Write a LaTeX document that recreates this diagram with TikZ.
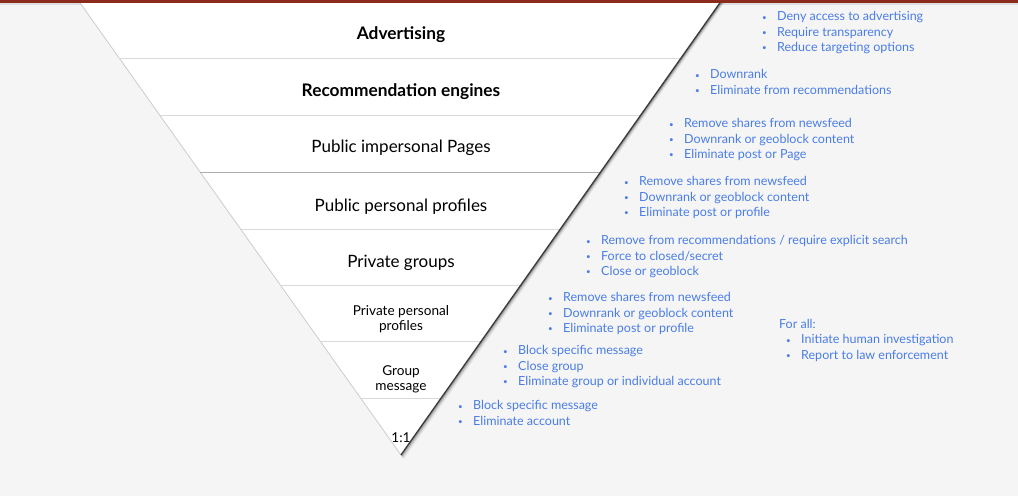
\documentclass[tikz,border=0pt]{standalone}
\usepackage{fontspec}
\setmainfont{Lato}
\usetikzlibrary{calc}
\definecolor{bg}{RGB}{245,245,246}
\definecolor{bluetxt}{RGB}{74,125,230}
\definecolor{topred}{RGB}{140,42,30}
\definecolor{edgedark}{RGB}{60,60,60}
\newcommand{\bitem}[1]{\makebox[15pt][l]{\raisebox{0.6pt}{\fontsize{8}{8}\selectfont\textbullet}}#1}
\begin{document}
\begin{tikzpicture}[x=1pt,y=-1pt,
  lvl/.style={font=\fontsize{17}{19}\selectfont, text=black, inner sep=0pt},
  lvlb/.style={font=\fontsize{17.3}{19}\selectfont\bfseries, text=black, inner sep=0pt},
  lvls/.style={font=\fontsize{13.6}{15}\selectfont, text=black, align=center, inner sep=0pt},
  actions/.style={font=\fontsize{12.5}{15.3}\selectfont, text=bluetxt, align=left, inner sep=0pt, anchor=base west},
  band/.style={draw=gray!30, line width=0.8pt},
  bandmid/.style={draw=gray!65, line width=0.9pt},
]
\useasboundingbox (0,0) rectangle (1018,496);
\fill[bg] (0,0) rectangle (1018,496);
% top shadow below red bar
\fill[gray!25] (0,2.5) rectangle (1018,5);
\coordinate (TL) at (78,0);
\coordinate (TR) at (722,0);
\coordinate (AP) at (401,455);
% soft shadow of the funnel
\foreach \o/\op in {1/0.30,2/0.18,3/0.09,4/0.04}{
  \draw[black, opacity=\op, line width=1.2pt] ($(TR)+(\o,0)$) -- ($(AP)+(0.6*\o,\o)$);
}
\fill[white] (TL) -- (TR) -- (AP) -- cycle;
\draw[gray!40, line width=0.8pt] (TL) -- (AP);
% band separators
\draw[band] ($(TL)!0.1275!(AP)$) -- ($(TR)!0.1275!(AP)$);
\draw[band] ($(TL)!0.2527!(AP)$) -- ($(TR)!0.2527!(AP)$);
\draw[bandmid] ($(TL)!0.3780!(AP)$) -- ($(TR)!0.3780!(AP)$);
\draw[band] ($(TL)!0.5033!(AP)$) -- ($(TR)!0.5033!(AP)$);
\draw[band] ($(TL)!0.6264!(AP)$) -- ($(TR)!0.6264!(AP)$);
\draw[band] ($(TL)!0.7495!(AP)$) -- ($(TR)!0.7495!(AP)$);
\draw[band] ($(TL)!0.8747!(AP)$) -- ($(TR)!0.8747!(AP)$);
\draw[edgedark, line width=1.4pt] (TR) -- (AP);
\fill[topred] (0,0) rectangle (1018,2.5);
% level labels
\node[lvlb] (adv) at (401,34.5) {Advertising};
\node[lvlb] (rec) at (401,91.5) {Recommendation engines};
\node[lvl] (pip) at (401,148) {Public impersonal Pages};
\node[lvl] (ppp) at (401,207) {Public personal profiles};
\node[lvl] (pg) at (401,263) {Private groups};
\node[lvls] (prp) at (401,319.5) {Private personal\\profiles};
\node[lvls] (gm) at (401,379) {Group\\message};
\node[lvls] (one) at (401,437.5) {1:1};
% action lists (anchored at the baseline of their last line)
\node[actions] (a1) at (762,51.4) {\bitem{Deny access to advertising}\\\bitem{Require transparency}\\\bitem{Reduce targeting options}};
\node[actions] (a2) at (695,94.2) {\bitem{Downrank}\\\bitem{Eliminate from recommendations}};
\node[actions] (a3) at (669,158.5) {\bitem{Remove shares from newsfeed}\\\bitem{Downrank or geoblock content}\\\bitem{Eliminate post or Page}};
\node[actions] (a4) at (624,216.5) {\bitem{Remove shares from newsfeed}\\\bitem{Downrank or geoblock content}\\\bitem{Eliminate post or profile}};
\node[actions] (a5) at (586,275.5) {\bitem{Remove from recommendations / require explicit search}\\\bitem{Force to closed/secret}\\\bitem{Close or geoblock}};
\node[actions] (a6) at (548,332.5) {\bitem{Remove shares from newsfeed}\\\bitem{Downrank or geoblock content}\\\bitem{Eliminate post or profile}};
\node[actions] (a7) at (503,385.5) {\bitem{Block specific message}\\\bitem{Close group}\\\bitem{Eliminate group or individual account}};
\node[actions] (a8) at (458,425.2) {\bitem{Block specific message}\\\bitem{Eliminate account}};
\node[actions] (fa) at (779,328) {For all:};
\node[actions] (a9) at (786,359.2) {\bitem{Initiate human investigation}\\\bitem{Report to law enforcement}};
\end{tikzpicture}
\end{document}
